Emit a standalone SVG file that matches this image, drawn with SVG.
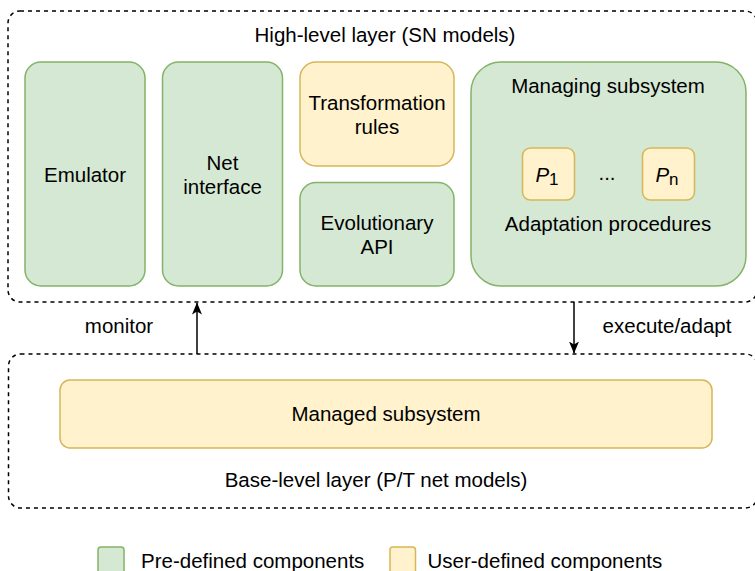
<svg xmlns="http://www.w3.org/2000/svg" width="755" height="571" viewBox="0 0 755 571">
<style>
text{font-family:"Liberation Sans",Arial,sans-serif;font-size:20.5px;fill:#000;text-anchor:middle;dominant-baseline:central}
.layer{fill:none;stroke:#000;stroke-width:1.5;stroke-dasharray:4 4}
.g{fill:#d5e8d4;stroke:#82b366;stroke-width:1.5}
.y{fill:#fff2cc;stroke:#d6b656;stroke-width:1.5}
.conn{stroke:#000;stroke-width:1.5;fill:none}
.l{text-anchor:start}
</style>
<defs>
<marker id="ah" viewBox="0 0 12 10" refX="11.5" refY="5" markerWidth="12" markerHeight="10" markerUnits="userSpaceOnUse" orient="auto">
<path d="M0,0 L12,5 L0,10 L3,5 Z" fill="#000"/>
</marker>
</defs>
<g id="high-layer">
<rect class="layer" x="8" y="11" width="749" height="291" rx="12"/>
<text x="385" y="34.5">High-level layer (SN models)</text>
</g>
<g id="base-layer">
<rect class="layer" x="8.5" y="354" width="749" height="154" rx="12"/>
<text x="376" y="479.5">Base-level layer (P/T net models)</text>
</g>
<g id="emulator">
<rect class="g" x="25" y="62" width="120" height="224" rx="16"/>
<text x="85" y="174.5">Emulator</text>
</g>
<g id="net-interface">
<rect class="g" x="162.5" y="62" width="120" height="224" rx="16"/>
<text x="222.5" y="162.5">Net</text>
<text x="222.5" y="186.5">interface</text>
</g>
<g id="transformation-rules">
<rect class="y" x="300" y="62" width="154" height="104" rx="16"/>
<text x="377" y="102.5">Transformation</text>
<text x="377" y="126.5">rules</text>
</g>
<g id="evolutionary-api">
<rect class="g" x="300" y="182.5" width="154" height="103.5" rx="16"/>
<text x="377" y="222.5">Evolutionary</text>
<text x="377" y="246.5">API</text>
</g>
<g id="managing-subsystem">
<rect class="g" x="471" y="62" width="275" height="224" rx="30"/>
<text x="608" y="85.5">Managing subsystem</text>
<text x="608" y="223.5">Adaptation procedures</text>
<text x="607" y="172.5">...</text>
</g>
<g id="p1">
<rect class="y" x="522.5" y="148" width="52" height="52" rx="8"/>
<text x="547" y="173.5"><tspan font-style="italic">P</tspan><tspan dy="5" font-size="17">1</tspan></text>
</g>
<g id="pn">
<rect class="y" x="642.5" y="148" width="52" height="52" rx="8"/>
<text x="667" y="173.5"><tspan font-style="italic">P</tspan><tspan dy="5" font-size="17">n</tspan></text>
</g>
<g id="managed-subsystem">
<rect class="y" x="60" y="380" width="652" height="68" rx="10"/>
<text x="386" y="413.5">Managed subsystem</text>
</g>
<g id="connectors">
<line class="conn" x1="197" y1="354" x2="197" y2="303" marker-end="url(#ah)"/>
<line class="conn" x1="574" y1="302" x2="574" y2="353" marker-end="url(#ah)"/>
<text x="119" y="325.5">monitor</text>
<text x="667" y="325.5">execute/adapt</text>
</g>
<g id="legend">
<rect class="g" x="98" y="547" width="26" height="30" rx="3"/>
<text class="l" x="141" y="560.5">Pre-defined components</text>
<rect class="y" x="390" y="547" width="25.5" height="30" rx="3"/>
<text class="l" x="427.5" y="560.5">User-defined components</text>
</g>
</svg>
